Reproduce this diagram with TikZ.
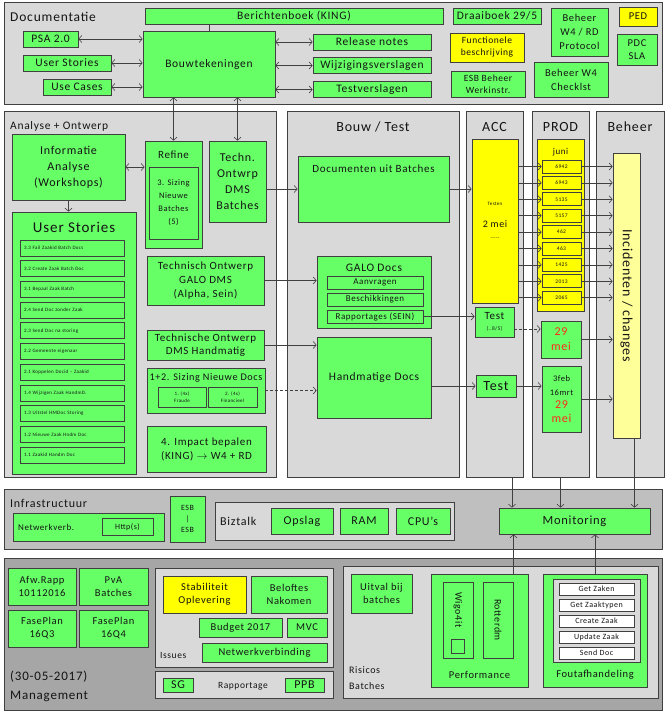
\documentclass[tikz,border=0pt]{standalone}
\usepackage{fontspec}
\setmainfont{Carlito}[LetterSpace=6]
\usetikzlibrary{arrows.meta}
\definecolor{PlanGreen}{HTML}{66FF66}
\definecolor{PlanYellow}{HTML}{FFFF00}
\definecolor{PlanPale}{HTML}{FFFF99}
\definecolor{PlanEdge}{HTML}{404040}
\definecolor{PlanPanel}{HTML}{D9D9D9}
\definecolor{PlanInfra}{HTML}{BFBFBF}
\definecolor{PlanMgmt}{HTML}{A6A6A6}
\definecolor{PlanText}{HTML}{141414}
\definecolor{PlanRed}{HTML}{FF2A1A}

\tikzset{
  fs/.style 2 args={font=\fontsize{#1}{#2}\selectfont},
  sz/.style 2 args={minimum width=#1, minimum height=#2},
  panel/.style={draw=PlanEdge, fill=PlanPanel, line width=0.8pt, inner sep=0pt},
  gbox/.style={draw=PlanEdge, fill=PlanGreen, line width=0.8pt, inner sep=0pt, align=center, text=PlanText},
  ybox/.style={gbox, fill=PlanYellow},
  wbox/.style={gbox, fill=white},
  lbl/.style={inner sep=0pt, text=PlanText, align=center},
  arr/.style={draw=PlanEdge, line width=0.6pt, -{Straight Barb[length=3pt,width=7pt]}},
  darr/.style={arr, {Straight Barb[length=3pt,width=7pt]}-{Straight Barb[length=3pt,width=7pt]}},
}

\begin{document}
\begin{tikzpicture}[x=1pt, y=-1pt, fs={11.5}{13}]
  \useasboundingbox (0,0) rectangle (666,714);

  % Documentatie
  \node[panel, sz={658}{102}] (docp) at (333,53) {};
  \node[lbl, anchor=west, fs={13.5}{15}] at (10,17) {Documentatie};
  \node[gbox, sz={298}{16}] (bericht) at (294,16) {Berichtenboek (KING)};
  \node[gbox, sz={55}{16}] (psa) at (50.5,39) {PSA 2.0};
  \node[gbox, sz={88}{16}] (us) at (67,63) {User Stories};
  \node[gbox, sz={68}{16}] (uc) at (77,87) {Use Cases};
  \node[gbox, sz={132}{66}] (bouw) at (209,64) {Bouwtekeningen};
  \node[gbox, sz={118}{16}] (relnotes) at (372,42) {Release notes};
  \node[gbox, sz={118}{16}] (wijz) at (372,65.5) {Wijzigingsverslagen};
  \node[gbox, sz={118}{16}] (testv) at (372,89.5) {Testverslagen};
  \node[gbox, sz={88}{16}] (draai) at (497,16) {Draaiboek 29/5};
  \node[ybox, sz={74}{29}, fs={9.5}{12}] (func) at (487,47.5) {Functionele\\beschrijving};
  \node[gbox, sz={74}{26}, fs={9.5}{12}] (esbw) at (488,84) {ESB Beheer\\Werkinstr.};
  \node[gbox, sz={57}{48}, fs={10.5}{14}] (bw4rd) at (579.5,32) {Beheer\\W4 / RD\\Protocol};
  \node[gbox, sz={74}{35}, fs={10.5}{14}] (bw4c) at (571,79.5) {Beheer W4\\Checklst};
  \node[ybox, sz={38}{19}, fs={10.5}{13}] (ped) at (638,16.5) {PED};
  \node[gbox, sz={40}{31}, fs={10.5}{13}] (pdc) at (637,49.5) {PDC\\SLA};

  \draw[PlanEdge, line width=0.6pt] (bouw.north) -- (bouw.north |- bericht.south);
  \draw[darr] (psa.east) -- (psa.east -| bouw.west);
  \draw[darr] (us.east) -- (us.east -| bouw.west);
  \draw[darr] (uc.east) -- (uc.east -| bouw.west);
  \draw[darr] (bouw.east |- relnotes) -- (relnotes.west);
  \draw[darr] (bouw.east |- wijz) -- (wijz.west);
  \draw[darr] (bouw.east |- testv) -- (testv.west);

  % Analyse + Ontwerp
  \node[panel, sz={272}{366}] (anap) at (140,294) {};
  \node[lbl, anchor=west, fs={11.5}{14}] at (10,126) {Analyse + Ontwerp};
  \node[gbox, sz={113}{66}, fs={12}{16}] (info) at (68.5,167) {Informatie\\Analyse\\(Workshops)};
  \node[gbox, sz={124}{262}] (usbig) at (74,343) {};
  \node[lbl, fs={15}{17}] at (74,227) {User Stories};
  \foreach \s [count=\i] in {3.3 Fail Zaakid Batch Docs, 3.2 Create Zaak Batch Doc,
      3.1 Bepaal Zaak Batch, 2.4 Send Doc zonder Zaak, 2.3 Send Doc na storing,
      2.2 Gemeente eigenaar, 2.1 Koppelen Docid – Zaakid, 1.4 Wijzigen Zaak HandmD.,
      1.3 Uitstel HMDoc Storing, 1.2 Nieuwe Zaak Hndm Doc, 1.1 Zaakid Handm Doc}
    \node[gbox, sz={104}{16}, text width=96pt, align=left, fs={5}{6}] (us\i) at (72,{248+(\i-1)*20.7}) {\s};
  \node[gbox, sz={57}{107}] (refine) at (173.5,194.5) {};
  \node[lbl, fs={11}{13}] at (173.5,155) {Refine};
  \node[gbox, sz={49}{72}, fs={8.5}{13}] (siz3) at (173.5,203) {3. Sizing\\Nieuwe\\Batches\\(5)};
  \node[gbox, sz={57}{81}, fs={12}{16}] (tdms) at (237.5,181.5) {Techn.\\Ontwrp\\DMS\\Batches};
  \node[gbox, sz={117}{49}, fs={11}{14}] (tgalo) at (205.5,280.5) {Technisch Ontwerp\\GALO DMS\\(Alpha, Sein)};
  \node[gbox, sz={117}{30}, fs={11}{13}] (thand) at (205.5,345) {Technische Ontwerp\\DMS Handmatig};
  \node[gbox, sz={118}{45}] (siz12) at (206,390.5) {};
  \node[lbl, fs={10.2}{12}] at (206,378) {1+2. Sizing Nieuwe Docs};
  \node[gbox, sz={48}{20}, fs={5}{7}] (fraude) at (182,397) {1. (4x)\\Fraude};
  \node[gbox, sz={49}{20}, fs={5}{7}] (financ) at (232.5,397) {2. (4x)\\Financieel};
  \node[gbox, sz={119}{46}, fs={11}{14}] (impact) at (206.5,449) {4. Impact bepalen\\(KING) $\rightarrow$ W4 + RD};

  \draw[darr] (bouw.south -| refine.north) -- (refine.north);
  \draw[darr] (bouw.south -| tdms.north) -- (tdms.north);
  \draw[arr] (info.south) -- (info.south |- usbig.north);
  \draw[darr] (info.east) -- (info.east -| refine.west);

  % Bouw / Test
  \node[panel, sz={172}{366}] (btp) at (373,294) {};
  \node[lbl, fs={14}{16}] at (373,127) {Bouw / Test};
  \node[gbox, sz={151}{66}] (docb) at (373.5,189) {};
  \node[lbl, fs={11}{13}] at (373.5,169) {Documenten uit Batches};
  \node[gbox, sz={114}{72}] (galo) at (374,292) {};
  \node[lbl] at (374,268) {GALO Docs};
  \node[gbox, sz={96}{13}, fs={9}{11}] (aanv) at (375,282.5) {Aanvragen};
  \node[gbox, sz={96}{13}, fs={9}{11}] (besch) at (375,299.5) {Beschikkingen};
  \node[gbox, sz={96}{13}, fs={9}{11}] (rapp) at (375,316.5) {Rapportages (SEIN)};
  \node[gbox, sz={114}{81}] (hand) at (374,377.5) {Handmatige Docs};

  % ACC
  \node[panel, sz={57}{366}] (accp) at (494.5,294) {};
  \node[lbl, fs={14}{16}] at (494.5,127) {ACC};
  \node[ybox, sz={46}{164}] (accy) at (495,221) {};
  \node[lbl, fs={5}{6}] at (495,204) {Testen};
  \node[lbl, fs={10}{12}] at (495,224) {2 mei};
  \node[lbl, fs={5}{6}] at (495,239) {{-}{-}{-}{-}{-}};
  \node[gbox, sz={39}{30}, fs={11}{11}] (test1) at (494.5,322) {Test\\{\fontsize{5.5}{7}\selectfont(..8/5)}};
  \node[gbox, sz={40}{22}, fs={14}{16}] (test2) at (496,386) {Test};

  % PROD
  \node[panel, sz={57}{366}] (prodp) at (560.5,294) {};
  \node[lbl, fs={14}{16}] at (560.5,127) {PROD};
  \node[ybox, sz={47}{172}] (prody) at (560.5,225) {};
  \node[lbl, fs={9}{11}] at (560.5,152) {juni};
  \node[gbox, sz={40}{37}, fs={12}{15}, text=PlanRed] (may) at (561,339.5) {29\\mei};
  \node[gbox, sz={39}{66}, fs={12}{13.5}] (feb) at (561.5,399)
    {{\fontsize{8.5}{10}\selectfont 3feb}\\{\fontsize{8.5}{10}\selectfont 16mrt}\\\textcolor{PlanRed}{29}\\\textcolor{PlanRed}{mei}};

  % Beheer
  \node[panel, sz={68}{366}] (behp) at (630,294) {};
  \node[lbl, fs={14}{16}] at (630,127) {Beheer};
  \node[gbox, fill=PlanPale, sz={27}{285}] (inc) at (626.5,295.5) {};
  \node[lbl, rotate=-90, fs={14}{16}] at (inc) {Incidenten / changes};

  \foreach \n [count=\i] in {6942,6943,5135,5157,462,463,1425,2013,2065} {
    \node[ybox, sz={39}{13}, fs={5.5}{7}] (rel\i) at (561.5,{166.5+(\i-1)*16.4}) {\n};
    \draw[arr] (accy.east |- rel\i) -- (rel\i.west);
    \draw[arr] (rel\i.east) -- (rel\i.east -| inc.west);
  }

  \draw[arr] (tdms.east |- docb) -- (docb.west);
  \draw[arr] (tgalo.east) -- (tgalo.east -| galo.west);
  \draw[arr] (thand.east) -- (thand.east -| hand.west);
  \draw[arr, densely dashed] (siz12.east) -- (siz12.east -| hand.west);
  \draw[arr] (docb.east) -- (docb.east -| accy.west);
  \draw[arr] (rapp.east) -- (rapp.east -| test1.west);
  \draw[arr] (hand.east |- test2) -- (test2.west);
  \draw[arr, densely dashed] ([yshift=-7pt]test1.east) -- ([yshift=-7pt]test1.east -| may.west);
  \draw[arr] (test2.east) -- (test2.east -| feb.west);
  \draw[arr] (may.east) -- (may.east -| inc.west);
  \draw[arr] (feb.east) -- (feb.east -| inc.west);

  % Infrastructuur
  \node[panel, fill=PlanInfra, sz={658}{60}] (infp) at (333,519) {};
  \node[lbl, anchor=west, fs={12}{14}] at (10,503) {Infrastructuur};
  \node[gbox, sz={151}{28}] (netw) at (88.5,527) {};
  \node[lbl, anchor=west, fs={9}{11}] at (18,527) {Netwerkverb.};
  \node[gbox, sz={51}{17}, fs={8}{10}] (http) at (127.5,527) {Http(s)};
  \node[gbox, sz={35}{46}, fs={8}{11}] (esb) at (187.5,519) {ESB\\|\\ESB};
  \node[panel, sz={239}{38}] (biz) at (334.5,521) {};
  \node[lbl, anchor=west, fs={12}{14}] at (220,521) {Biztalk};
  \node[gbox, sz={62}{26}, fs={12}{14}] (opslag) at (302,521) {Opslag};
  \node[gbox, sz={48}{26}, fs={12}{14}] (ram) at (364,521) {RAM};
  \node[gbox, sz={54}{26}, fs={12}{14}] (cpu) at (423,521) {CPU’s};
  \node[gbox, sz={151}{26}, fs={12.5}{14}] (mon) at (574.5,521) {Monitoring};

  % Management
  \node[panel, fill=PlanMgmt, sz={658}{152}] (mgp) at (333,634) {};
  \node[gbox, sz={68}{37}, fs={10.5}{13}] (afw) at (42,586.5) {Afw.Rapp\\10112016};
  \node[gbox, sz={69}{37}, fs={10.5}{13}] (pva) at (113.5,586.5) {PvA\\Batches};
  \node[gbox, sz={68}{37}, fs={10.5}{13}] (fp3) at (42,628.5) {FasePlan\\16Q3};
  \node[gbox, sz={69}{37}, fs={10.5}{13}] (fp4) at (113.5,628.5) {FasePlan\\16Q4};
  \node[lbl, anchor=west, fs={13}{15}] at (10,677) {(30-05-2017)};
  \node[lbl, anchor=west, fs={13}{15}] at (10,696) {Management};
  \node[panel, sz={178}{99}] (issp) at (244,617.5) {};
  \node[ybox, sz={83}{37}, fs={10.5}{13}] (stab) at (204.5,594.5) {Stabiliteit\\Oplevering};
  \node[gbox, sz={76}{37}, fs={10.5}{13}] (belo) at (289,594.5) {Beloftes\\Nakomen};
  \node[gbox, sz={83}{19}, fs={10.5}{13}] (budget) at (240.5,627.5) {Budget 2017};
  \node[gbox, sz={40}{19}, fs={10.5}{13}] (mvc) at (307,627.5) {MVC};
  \node[gbox, sz={125}{19}, fs={10.5}{13}] (netv) at (264.5,652.5) {Netwerkverbinding};
  \node[lbl, anchor=west, fs={9.5}{11}] at (160,655) {Issues};
  \node[panel, sz={178}{27}] (rapport) at (244,684.5) {};
  \node[gbox, sz={30}{14}, fs={12}{14}] (sg) at (178,685) {SG};
  \node[lbl, fs={9.5}{11}] at (243,686) {Rapportage};
  \node[gbox, sz={39}{14}, fs={12}{14}] (ppb) at (304.5,685) {PPB};
  \node[panel, sz={315}{132}] (risk) at (500.5,632) {};
  \node[gbox, sz={61}{39}, fs={10.5}{13}] (uitval) at (381.5,593.5) {Uitval bij\\batches};
  \node[lbl, anchor=west, align=left, fs={10}{16}] at (349,678) {Risicos\\Batches};
  \node[gbox, sz={97}{113}] (perf) at (479.5,630.5) {};
  \node[lbl, fs={10.5}{13}] at (479.5,675) {Performance};
  \node[gbox, sz={30}{76}] (wigo) at (458,620) {};
  \node[lbl, rotate=-90, fs={10}{12}] at (458,610) {Wigo4it};
  \node[gbox, sz={13}{14}] (wsq) at (457.5,646) {};
  \node[gbox, sz={30}{76}] (rott) at (498,620) {};
  \node[lbl, rotate=-90, fs={10}{12}] at (rott) {Rotterdm};
  \node[gbox, sz={104}{113}] (fout) at (595,630.5) {};
  \node[lbl, fs={10.5}{13}] at (595,675) {Foutafhandeling};
  \node[panel, sz={87}{83}] (calls) at (596.5,620.5) {};
  \foreach \c [count=\i] in {Get Zaken, Get Zaaktypen, Create Zaak, Update Zaak, Send Doc}
    \node[wbox, sz={75}{12}, fs={8}{10}] (call\i) at (596.5,{589+(\i-1)*16}) {\c};

  % naar Monitoring
  \draw[arr] ([xshift=17.5pt]accp.south) -- ([xshift=17.5pt]accp.south |- mon.north);
  \draw[arr] (prodp.south) -- (prodp.south |- mon.north);
  \draw[arr] ([xshift=8pt]inc.south) -- ([xshift=8pt]inc.south |- mon.north);
  \draw[arr] ([xshift=34pt]perf.north) -- ([xshift=34pt]perf.north |- mon.south);
  \draw[arr] (fout.north) -- (fout.north |- mon.south);
\end{tikzpicture}
\end{document}
